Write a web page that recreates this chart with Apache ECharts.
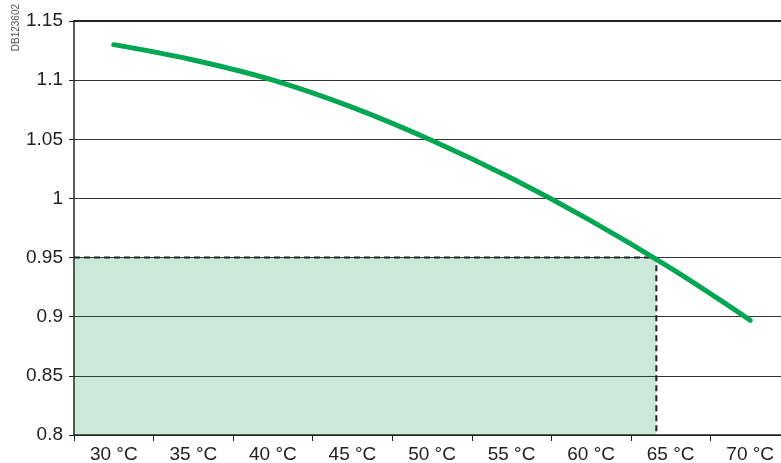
<!DOCTYPE html>
<html>
<head>
<meta charset="utf-8">
<script src="https://cdn.jsdelivr.net/npm/echarts@6/dist/echarts.min.js"></script>
<style>html,body{margin:0;padding:0;background:#fff}#c{width:781px;height:463px}</style>
</head>
<body>
<div id="c"></div>
<script>
// Data
const categories = ['30 °C','35 °C','40 °C','45 °C','50 °C','55 °C','60 °C','65 °C','70 °C'];
const temps = [30, 35, 40, 45, 50, 55, 60, 65, 70];
const factors = [1.13, 1.117, 1.10, 1.077, 1.049, 1.017, 0.981, 0.941, 0.897];
const limitTemp = 64.1;
const limitFactor = 0.95;
const yMin = 0.8, yMax = 1.15, yStep = 0.05;
const xMin = 27.5, xMax = 72.5;

const curve = temps.map((t, i) => [t, factors[i]]);
const dashed = [[xMin, limitFactor], [limitTemp, limitFactor], [limitTemp, yMin]];

const font = 'Liberation Sans, Arial, sans-serif';
const chart = echarts.init(document.getElementById('c'), null, {renderer: 'canvas'});
chart.setOption({
  animation: false,
  backgroundColor: '#fff',
  grid: {left: 74, top: 21, width: 716, bottom: 28, containLabel: false, outerBoundsMode: 'none'},
  xAxis: [
    {
      type: 'category', data: categories, boundaryGap: true, position: 'bottom',
      axisLine: {show: true, lineStyle: {color: '#222', width: 1.5}},
      axisTick: {show: true, length: 6, lineStyle: {color: '#222', width: 1}},
      axisLabel: {fontFamily: font, fontSize: 19, color: '#222', margin: 10, interval: 0},
      splitLine: {show: false}
    },
    {
      type: 'value', min: xMin, max: xMax, position: 'top',
      axisLine: {show: true, onZero: false, lineStyle: {color: '#222', width: 2}},
      axisTick: {show: false}, axisLabel: {show: false}, splitLine: {show: false}
    }
  ],
  yAxis: {
    type: 'value', min: yMin, max: yMax, interval: yStep,
    axisLine: {show: true, lineStyle: {color: '#222', width: 1.5}},
    axisTick: {show: true, length: 5, lineStyle: {color: '#222', width: 1}},
    axisLabel: {fontFamily: font, fontSize: 19, color: '#222', margin: 11,
      formatter: v => String(parseFloat(v.toFixed(2)))},
    splitLine: {show: true, lineStyle: {color: '#333', width: 1}}
  },
  series: [
    {
      type: 'line', xAxisIndex: 1, data: dashed, symbol: 'none', z: 3,
      lineStyle: {color: '#222', width: 2, type: [6, 4]},
      markArea: {
        silent: true,
        itemStyle: {color: 'rgba(0,140,60,0.2)'},
        data: [[{coord: [xMin, yMin]}, {coord: [limitTemp, limitFactor]}]]
      }
    },
    {
      type: 'line', xAxisIndex: 1, data: curve, symbol: 'none', smooth: 0.4, z: 4,
      lineStyle: {color: '#00a651', width: 5, cap: 'round'}
    }
  ],
  graphic: [{
    type: 'text', left: 11, top: 4, rotation: Math.PI / 2,
    style: {text: 'DB123602', fontFamily: font, fontSize: 10, fill: '#555'}
  }]
});
</script>
</body>
</html>
